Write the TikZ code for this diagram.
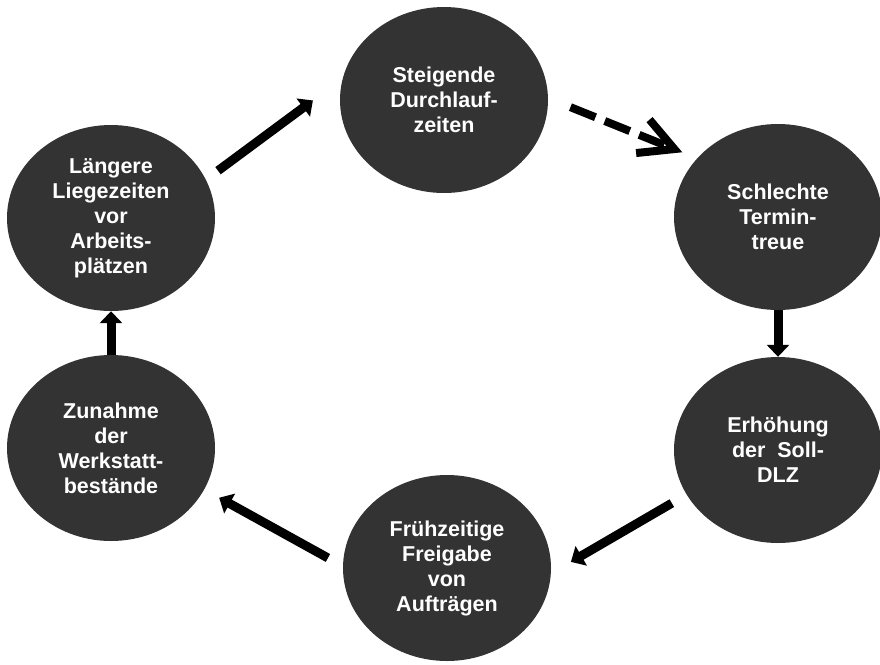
\documentclass[tikz,border=0pt]{standalone}
\usepackage{fontspec}
\setmainfont{Liberation Sans}
\usetikzlibrary{shapes.geometric,arrows.meta}
\begin{document}
\begin{tikzpicture}[x=1pt,y=-1pt,
  blob/.style={ellipse,fill=black!80,text=white,inner sep=0pt,minimum width=208pt,minimum height=186pt,align=center,font=\fontsize{21.5}{25}\selectfont\bfseries},
  arr/.style={line width=9pt,-{Triangle[length=12pt,width=22pt]}},
  darr/.style={line width=8pt,dash pattern=on 27pt off 10pt,-{Straight Barb[length=34pt,width=36pt]}}]
\useasboundingbox (0,0) rectangle (880,664);
\node[blob] (steig) at (444,100) {Steigende\\Durchlauf-\\zeiten};
\node[blob] (schl) at (778,217) {Schlechte\\Termin-\\treue};
\node[blob] (erh) at (778,450) {Erhöhung\\der\ \ Soll-\\DLZ};
\node[blob] (frueh) at (447,568) {Frühzeitige\\Freigabe\\von\\Aufträgen};
\node[blob] (zun) at (111,448) {Zunahme\\der\\Werkstatt-\\bestände};
\node[blob] (liege) at (111,218) {Längere\\Liegezeiten\\vor\\Arbeits-\\plätzen};
\draw[arr,shorten <=15pt,shorten >=37pt] (liege.22) -- (steig.168);
\draw[darr,shorten <=24pt,shorten >=16pt] (steig.1) -- (schl.144);
\draw[arr] (schl) -- (erh);
\draw[arr,shorten <=17pt,shorten >=23pt] (erh.206) -- (frueh.357);
\draw[arr,shorten <=17pt,shorten >=17pt] (frueh.179) -- (zun.336);
\draw[arr] (zun) -- (liege);
\end{tikzpicture}
\end{document}
